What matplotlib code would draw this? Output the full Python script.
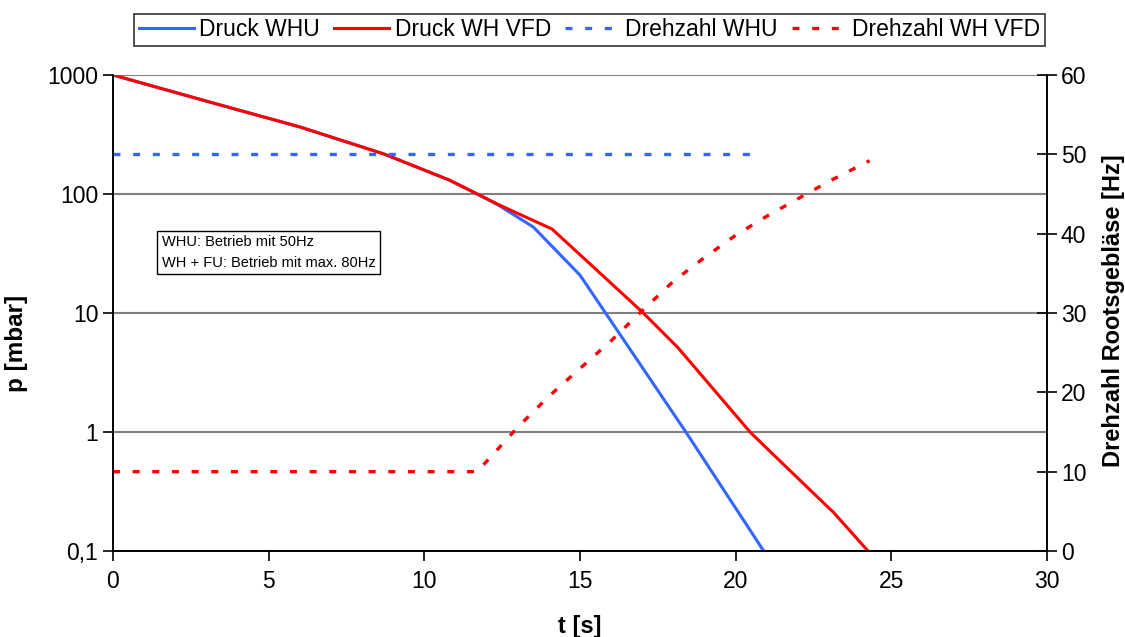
import matplotlib
matplotlib.use("Agg")
import matplotlib.pyplot as plt
from matplotlib.ticker import FixedLocator, FuncFormatter, NullLocator

plt.rcParams['font.family'] = ['Liberation Sans', 'DejaVu Sans']

# Pressure data (t in s, p in mbar)
t_whu = [0, 3.1, 6.0, 8.7, 10.8, 11.7, 12.4, 13.5, 15.0, 18.4, 20.9]
p_whu = [1000, 593, 366, 217, 131, 100, 80, 52.8, 20.8, 1.0, 0.1]

t_vfd = [0, 3.1, 6.0, 8.7, 10.8, 11.7, 12.4, 14.1, 17.0, 18.15, 20.46, 21.65, 23.15, 24.25]
p_vfd = [1000, 593, 366, 217, 131, 100, 81, 50.8, 10.2, 5.1, 1.0, 0.5, 0.21, 0.1]

# Rotational speed data (t in s, Hz)
t_n_whu = [0, 20.6]
n_whu = [50, 50]

t_n_vfd = [0, 11.7, 13.0, 14.0, 15.0, 16.0, 17.0, 18.0, 19.0, 20.0, 21.0, 22.0, 23.0, 24.3]
n_vfd = [10, 10, 15.6, 19.5, 23.0, 26.5, 30.3, 34.0, 37.0, 39.8, 42.2, 44.4, 46.6, 49.2]

labels = ["Druck WHU", "Druck WH VFD", "Drehzahl WHU", "Drehzahl WH VFD"]
blue = "#3366FF"
red = "#FF0000"

fig = plt.figure(figsize=(11.25, 6.37), dpi=100)
ax = fig.add_axes([0.1004, 0.135, 0.8303, 0.7473])
ax2 = ax.twinx()

l1, = ax.plot(t_whu, p_whu, color=blue, lw=2.2, label=labels[0], zorder=3)
l2, = ax.plot(t_vfd, p_vfd, color=red, lw=2.2, label=labels[1], zorder=4)
l3, = ax2.plot(t_n_whu, n_whu, color=blue, lw=2.4, dashes=(2.1, 3.8), label=labels[2])
l4, = ax2.plot(t_n_vfd, n_vfd, color=red, lw=2.4, dashes=(2.1, 3.8), label=labels[3])

ax.set_yscale('log')
ax.set_ylim(0.1, 1000)
ax.set_xlim(0, 30)
ax2.set_ylim(0, 60)

ax.yaxis.set_major_locator(FixedLocator([0.1, 1, 10, 100, 1000]))
ax.yaxis.set_minor_locator(NullLocator())
ax.yaxis.set_major_formatter(FuncFormatter(lambda v, p: {0.1: "0,1", 1: "1", 10: "10", 100: "100", 1000: "1000"}.get(round(v, 1), "")))
ax.set_xticks([0, 5, 10, 15, 20, 25, 30])
ax2.set_yticks([0, 10, 20, 30, 40, 50, 60])

ax.grid(axis='y', which='major', color='#808080', lw=1.5)
ax.set_axisbelow(True)

for a in (ax, ax2):
    a.spines['top'].set_visible(False)
    for s in a.spines.values():
        s.set_linewidth(1.2)
        s.set_color('black')

ax.tick_params(axis='both', direction='out', length=7, width=1.2, labelsize=16.5, colors='black')
ax.tick_params(axis='x', pad=7)
ax2.tick_params(axis='y', direction='inout', length=14, width=1.2, labelsize=16.5, pad=3)

ax.set_xlabel("t [s]", fontsize=17, fontweight='bold')
ax.xaxis.set_label_coords(0.5, -0.134)
ax.set_ylabel("p [mbar]", fontsize=17.5, fontweight='bold')
ax.yaxis.set_label_coords(-0.091, 0.437)
ax2.set_ylabel("Drehzahl Rootsgebläse [Hz]", fontsize=17, fontweight='bold')
ax2.yaxis.set_label_coords(1.059, 0.505)

ax.text(0.052, 0.664, "WHU: Betrieb mit 50Hz\nWH + FU: Betrieb mit max. 80Hz",
        transform=ax.transAxes, fontsize=10.5, va='top', ha='left', linespacing=1.65,
        bbox=dict(boxstyle='square,pad=0.3', facecolor='white', edgecolor='black', lw=1.0), zorder=10)

leg = fig.legend([l1, l2, l3, l4], labels, loc='center', bbox_to_anchor=(0.524, 0.953),
                 ncol=4, fontsize=16.5, frameon=True, fancybox=False, edgecolor='black',
                 handlelength=2.4, handletextpad=0.25, columnspacing=0.6, borderpad=0.2,
                 borderaxespad=0)
leg.get_frame().set_linewidth(1.2)

fig.savefig("out.png", dpi=100)
